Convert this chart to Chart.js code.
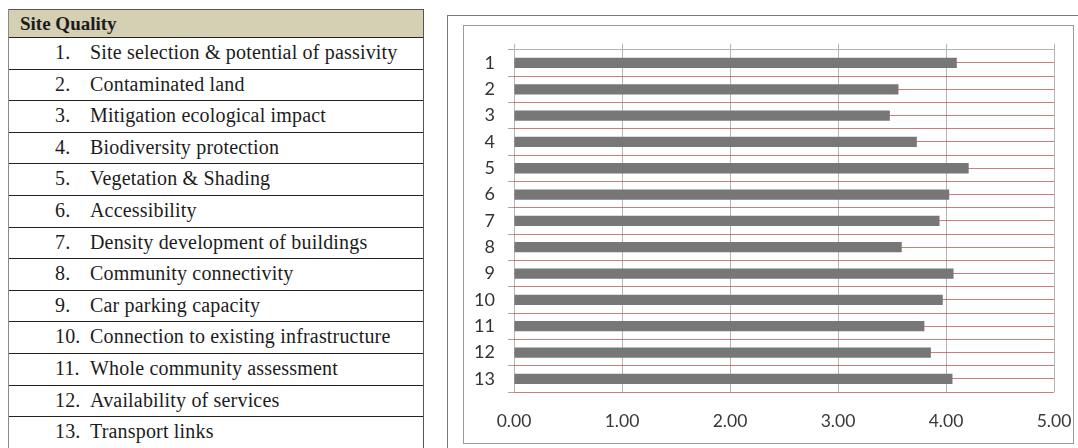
<!DOCTYPE html>
<html>
<head>
<meta charset="utf-8">
<script src="https://cdn.jsdelivr.net/npm/chart.js@4/dist/chart.umd.min.js"></script>
<style>
  html, body { margin: 0; padding: 0; background: #fff; }
  body { width: 1078px; height: 448px; overflow: hidden; position: relative; }
  #criteria {
    position: absolute; left: 8px; top: 9px; width: 416px;
    box-sizing: border-box;
    border-left: 1px solid #8a8a8a; border-right: 1px solid #555;
    font-family: "Liberation Serif", "DejaVu Serif", serif;
    color: #1c1c1c;
  }
  #criteria .head {
    height: 29px; box-sizing: border-box;
    border-top: 1px solid #555; border-bottom: 1px solid #222;
    background: #d5cfb4;
    font-weight: bold; font-size: 19px; line-height: 27px;
    padding-left: 11px;
  }
  #criteria .row {
    height: 31.6px; box-sizing: border-box;
    border-bottom: 1px solid #222;
    font-size: 20px; line-height: 29px;
    letter-spacing: 0.18px;
    display: flex; white-space: nowrap;
  }
  #criteria .num { width: 81px; padding-left: 46px; box-sizing: border-box; }
  #boxOuter {
    position: absolute; left: 447px; top: 15px; width: 700px; height: 500px;
    box-sizing: border-box; border: 1px solid #7a7a7a;
  }
  #boxInner {
    position: absolute; left: 463px; top: 25px; width: 611px; height: 419px;
    box-sizing: border-box; border: 1px solid #9a9a9a;
  }
  #wrap { position: absolute; left: 464px; top: 26px; width: 609px; height: 416px; }
</style>
</head>
<body>
<div id="criteria"></div>
<div id="boxOuter"></div>
<div id="boxInner"></div>
<div id="wrap"><canvas id="scores"></canvas></div>
<script>
const sectionTitle = 'Site Quality';

const criteria = [
  'Site selection & potential of passivity',
  'Contaminated land',
  'Mitigation ecological impact',
  'Biodiversity protection',
  'Vegetation & Shading',
  'Accessibility',
  'Density development of buildings',
  'Community connectivity',
  'Car parking capacity',
  'Connection to existing infrastructure',
  'Whole community assessment',
  'Availability of services',
  'Transport links'
];

// mean score per criterion
const scores = [4.10, 3.56, 3.48, 3.73, 4.21, 4.03, 3.94, 3.59, 4.07, 3.97, 3.80, 3.86, 4.06];

const itemLabels = criteria.map((c, i) => String(i + 1));

const scoreMin = 0;
const scoreMax = 5;
const scoreStep = 1;

const RED_LINE = 'rgba(192, 80, 77, 0.75)';
const GREY_LINE = '#b4b4b4';
const FONT_FAMILY = 'Lato, "Open Sans", sans-serif';

function buildCriteriaTable() {
  const box = document.getElementById('criteria');
  const head = document.createElement('div');
  head.className = 'head';
  head.textContent = sectionTitle;
  box.appendChild(head);
  criteria.forEach((name, i) => {
    const row = document.createElement('div');
    row.className = 'row';
    const num = document.createElement('span');
    num.className = 'num';
    num.textContent = (i + 1) + '.';
    const txt = document.createElement('span');
    txt.textContent = name;
    row.appendChild(num);
    row.appendChild(txt);
    box.appendChild(row);
  });
}

function drawScoreChart() {
  const ctx = document.getElementById('scores').getContext('2d');
  return new Chart(ctx, {
    type: 'bar',
    data: {
      labels: itemLabels,
      datasets: [{
        data: scores,
        backgroundColor: '#777777',
        borderWidth: 0,
        categoryPercentage: 1,
        barPercentage: 0.39
      }]
    },
    options: {
      indexAxis: 'y',
      responsive: true,
      maintainAspectRatio: false,
      animation: false,
      layout: { padding: { top: 16, right: 19, left: 0, bottom: 0 } },
      plugins: {
        legend: { display: false },
        tooltip: { enabled: false }
      },
      scales: {
        x: {
          type: 'linear',
          position: 'bottom',
          min: scoreMin,
          max: scoreMax,
          ticks: {
            stepSize: scoreStep,
            padding: 0,
            color: '#383838',
            font: { family: FONT_FAMILY, size: 17.5 },
            callback: v => Number(v).toFixed(2)
          },
          // invisible tick marks push the labels down without widening the side padding
          grid: { color: GREY_LINE, tickLength: 19, tickColor: 'rgba(0,0,0,0)' },
          border: { display: false },
          afterFit: s => { s.height = 50; }
        },
        // short tick marks poking above the plot
        xTop: {
          type: 'linear',
          position: 'top',
          min: scoreMin,
          max: scoreMax,
          ticks: { stepSize: scoreStep, display: false },
          grid: { color: GREY_LINE, drawOnChartArea: false, tickLength: 6 },
          border: { display: false }
        },
        y: {
          type: 'category',
          position: 'left',
          offset: true,
          ticks: { padding: 13, color: '#333333', font: { family: FONT_FAMILY, size: 18 } },
          grid: {
            offset: true,
            tickLength: 6,
            tickColor: '#a6a6a6',
            color: c => c.index === 0 ? GREY_LINE : RED_LINE
          },
          border: { display: false },
          afterFit: s => { s.width = 50; }
        },
        // red lines through the middle of each bar row
        yMid: {
          type: 'category',
          position: 'left',
          offset: true,
          ticks: { display: false },
          grid: { offset: false, drawTicks: false, color: RED_LINE },
          border: { display: false }
        }
      }
    }
  });
}

buildCriteriaTable();
drawScoreChart();
</script>
</body>
</html>
